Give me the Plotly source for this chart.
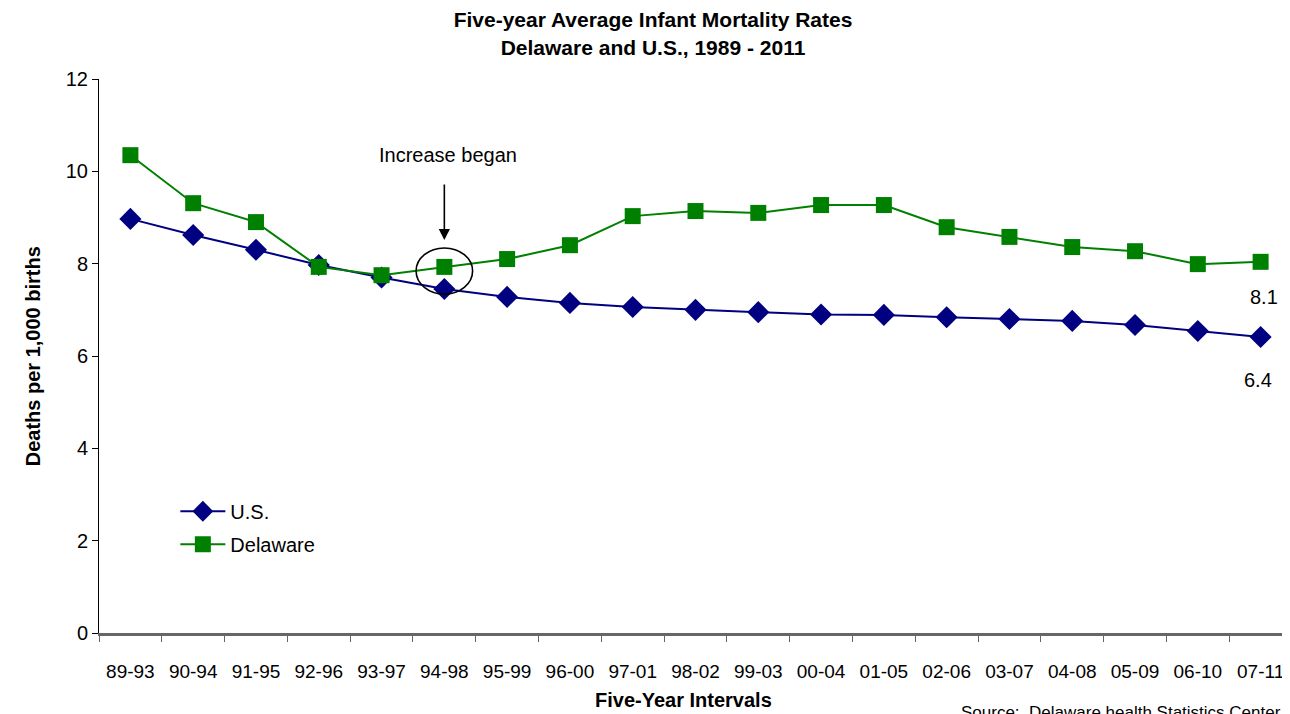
import plotly.graph_objects as go

intervals = ["89-93", "90-94", "91-95", "92-96", "93-97", "94-98", "95-99", "96-00", "97-01",
             "98-02", "99-03", "00-04", "01-05", "02-06", "03-07", "04-08", "05-09", "06-10", "07-11"]
us_rate = [8.97, 8.62, 8.3, 7.97, 7.7, 7.45, 7.28, 7.15, 7.06, 7.0, 6.95, 6.9, 6.89, 6.84, 6.8,
           6.76, 6.67, 6.54, 6.41]
delaware_rate = [10.35, 9.31, 8.9, 7.93, 7.75, 7.93, 8.1, 8.4, 9.03, 9.14, 9.1, 9.27, 9.27, 8.79,
                 8.58, 8.36, 8.27, 7.99, 8.04]
last_labels = {"Delaware": "8.1", "U.S.": "6.4"}

FONT = "Liberation Sans, Arial, sans-serif"

fig = go.Figure()
fig.add_trace(go.Scatter(x=intervals, y=us_rate, name="U.S.", mode="lines+markers",
                         legendgroup="us",
                         line=dict(color="#000080", width=2),
                         marker=dict(symbol="diamond", size=17, color="#000080")))
fig.add_trace(go.Scatter(x=intervals, y=delaware_rate, name="Delaware", mode="lines+markers",
                         legendgroup="de",
                         line=dict(color="#008000", width=2),
                         marker=dict(symbol="square", size=16, color="#008000")))

# end labels
fig.add_annotation(x=intervals[-1], y=delaware_rate[-1], text=last_labels["Delaware"],
                   showarrow=False, yshift=-35, xshift=3, font=dict(size=20, color="black"))
fig.add_annotation(x=intervals[-1], y=us_rate[-1], text=last_labels["U.S."],
                   showarrow=False, yshift=-43, xshift=-3, font=dict(size=20, color="black"))

# "Increase began" callout
fig.add_annotation(x=intervals[5], y=8.51, ax=0, ay=-57, text="", showarrow=True,
                   arrowhead=2, arrowsize=1.4, arrowwidth=1.6, arrowcolor="black")
fig.add_annotation(x=intervals[5], y=10.35, text="Increase began", showarrow=False,
                   xshift=4, font=dict(size=20, color="black"))
fig.add_shape(type="circle", xref="x", yref="y", x0=4.55, x1=5.45, y0=7.34, y1=8.34,
              line=dict(color="black", width=1.6))

fig.update_layout(
    width=1290, height=714,
    margin=dict(l=91, r=6, t=71, b=89, autoexpand=False),
    paper_bgcolor="white", plot_bgcolor="white",
    font=dict(family=FONT, size=18, color="black"),
    title=dict(text="<b>Five-year Average Infant Mortality Rates<br>Delaware and U.S., 1989 - 2011</b>",
               x=0.5, xanchor="center", y=0.973, yanchor="top", font=dict(size=21)),
    showlegend=True,
    legend=dict(x=0.064, y=0.255, xanchor="left", yanchor="top", bgcolor="rgba(0,0,0,0)",
                font=dict(size=20), traceorder="grouped", tracegroupgap=4, itemwidth=45),
)
fig.update_xaxes(
    type="category", range=[-0.5, 18.5], automargin=False, showgrid=False, showline=True,
    linecolor="#666666", linewidth=2.5,
    ticks="outside", tickson="boundaries", ticklen=6, tickcolor="#666666",
    tickfont=dict(size=19, family=FONT), ticklabelstandoff=19,
)
fig.update_yaxes(
    range=[0, 12], dtick=2, automargin=False, showgrid=False, zeroline=False, showline=True,
    linecolor="black", linewidth=1, ticks="outside", ticklen=6, tickcolor="black",
    tickfont=dict(size=20),
)
# axis titles
fig.add_annotation(xref="paper", yref="paper", x=0.49, y=-0.121, yanchor="middle",
                   text="<b>Five-Year Intervals</b>", showarrow=False, font=dict(size=20))
fig.add_annotation(xref="paper", yref="paper", x=-0.066, y=0.5, textangle=-90,
                   text="<b>Deaths per 1,000 births</b>", showarrow=False, font=dict(size=20))
fig.add_annotation(xref="paper", yref="paper", x=0.9925, y=-0.122, xanchor="right", yanchor="top",
                   text="Source:  Delaware health Statistics Center", showarrow=False,
                   font=dict(size=17))

fig.write_html("out.html")
